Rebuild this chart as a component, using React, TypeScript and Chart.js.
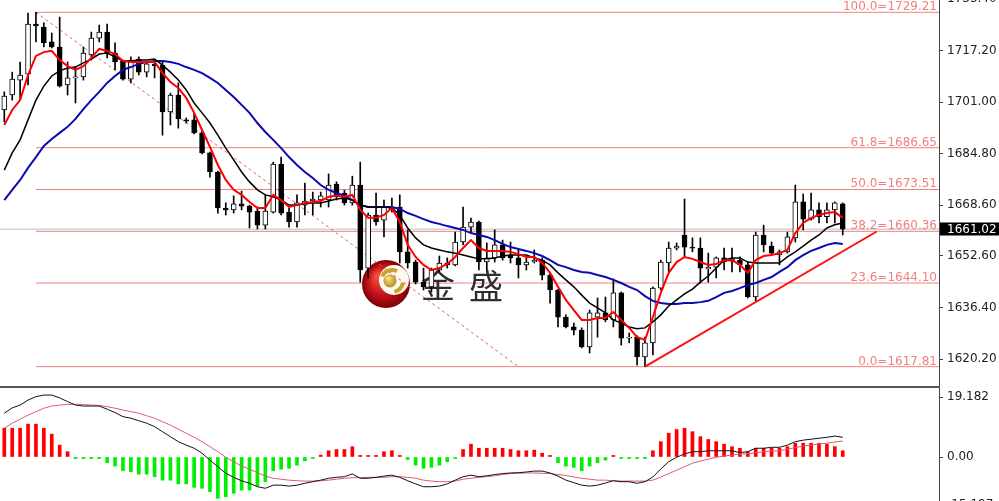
import React, { useEffect, useRef } from 'react';
import { Chart, registerables } from 'chart.js';

Chart.register(...registerables);
Chart.defaults.font.family = '"DejaVu Sans", Verdana, sans-serif';

// ---- XAUUSD candles (one per bar, oldest first) ----
const OPEN = [
  1698.5, 1703.2, 1707.9, 1709.8, 1725.5, 1724.6, 1719.9, 1718.3, 1706.4, 1708.6,
  1708.9, 1715.8, 1721.1, 1723.0, 1716.4, 1713.9, 1708.2, 1714.5, 1710.4, 1712.9,
  1712.6, 1697.9, 1703.2, 1695.4, 1695.4, 1691.3, 1685.0, 1679.0, 1667.7, 1667.1,
  1669.0, 1668.3, 1666.7, 1662.3, 1666.4, 1681.5, 1666.4, 1663.3, 1668.6, 1669.9,
  1670.2, 1670.2, 1675.2, 1672.4, 1669.3, 1674.9, 1648.8, 1665.5, 1663.9, 1668.0,
  1668.0, 1653.9, 1650.7, 1644.4, 1642.9, 1648.2, 1650.4, 1649.8, 1657.0, 1661.7,
  1663.3, 1650.7, 1652.0, 1656.1, 1652.9, 1652.0, 1649.8, 1650.7, 1651.3, 1646.6,
  1641.9, 1633.4, 1630.3, 1629.3, 1624.0, 1633.4, 1634.7, 1632.5, 1641.0, 1626.8,
  1627.1, 1620.9, 1625.3, 1642.5, 1650.4, 1655.1, 1659.2, 1655.4, 1655.1, 1648.5,
  1649.1, 1652.0, 1651.0, 1651.3, 1649.8, 1639.7, 1659.2, 1655.7, 1652.9, 1653.9,
  1658.3, 1669.6, 1664.2, 1667.1, 1665.0, 1667.1, 1669.0,
];
const HIGH = [
  1704.2, 1710.4, 1713.6, 1729.0, 1729.21, 1725.9, 1722.7, 1727.7, 1713.6, 1712.0,
  1718.3, 1723.0, 1725.2, 1725.5, 1719.6, 1714.2, 1715.2, 1715.2, 1713.6, 1713.9,
  1713.9, 1703.8, 1707.0, 1696.0, 1697.6, 1691.9, 1685.3, 1679.3, 1669.3, 1671.5,
  1673.0, 1668.6, 1668.0, 1671.8, 1682.1, 1683.7, 1667.7, 1671.8, 1675.5, 1672.7,
  1672.7, 1678.4, 1675.9, 1673.3, 1677.7, 1682.1, 1666.1, 1672.4, 1670.2, 1670.8,
  1671.8, 1660.8, 1651.3, 1648.8, 1648.8, 1652.6, 1652.0, 1660.1, 1668.0, 1664.5,
  1663.6, 1656.7, 1660.8, 1657.6, 1657.0, 1654.5, 1652.0, 1654.5, 1652.0, 1647.3,
  1642.1, 1634.1, 1631.5, 1630.0, 1635.6, 1639.4, 1639.7, 1645.4, 1641.3, 1628.4,
  1627.5, 1627.1, 1642.9, 1651.3, 1657.0, 1656.7, 1670.5, 1658.3, 1658.3, 1653.5,
  1652.3, 1655.1, 1655.1, 1652.3, 1650.7, 1660.1, 1662.3, 1657.0, 1654.5, 1660.1,
  1674.9, 1672.1, 1672.4, 1669.3, 1669.3, 1669.6, 1669.3,
];
const LOW = [
  1694.7, 1701.6, 1701.6, 1706.4, 1719.9, 1718.3, 1718.0, 1705.7, 1703.2, 1700.7,
  1707.9, 1714.2, 1719.9, 1714.9, 1711.1, 1707.9, 1707.0, 1709.5, 1708.9, 1708.6,
  1690.6, 1693.8, 1692.8, 1694.4, 1691.0, 1684.7, 1677.4, 1666.1, 1665.5, 1666.1,
  1667.1, 1661.4, 1661.1, 1661.1, 1666.1, 1665.5, 1661.7, 1661.7, 1665.5, 1665.5,
  1668.0, 1668.0, 1670.2, 1668.6, 1668.6, 1644.4, 1645.7, 1662.3, 1658.6, 1666.4,
  1650.4, 1648.8, 1643.8, 1641.9, 1641.3, 1647.6, 1648.8, 1649.5, 1656.1, 1660.1,
  1648.2, 1648.2, 1650.7, 1651.3, 1650.4, 1645.7, 1648.2, 1650.4, 1645.1, 1637.8,
  1630.3, 1630.0, 1627.8, 1623.7, 1622.1, 1627.1, 1631.9, 1630.3, 1624.6, 1625.3,
  1618.3, 1617.81, 1621.5, 1641.9, 1647.6, 1654.5, 1652.0, 1653.9, 1644.1, 1644.4,
  1645.7, 1648.2, 1647.6, 1647.6, 1639.4, 1638.5, 1653.9, 1652.9, 1649.8, 1653.5,
  1657.0, 1660.8, 1663.9, 1663.0, 1663.0, 1663.0, 1659.2,
];
const CLOSE = [
  1702.9, 1708.2, 1709.5, 1725.5, 1724.9, 1719.6, 1718.3, 1706.0, 1708.6, 1708.9,
  1716.4, 1721.1, 1723.0, 1716.4, 1713.6, 1708.2, 1714.2, 1710.4, 1713.0, 1712.4,
  1697.9, 1703.2, 1695.7, 1695.0, 1691.3, 1685.0, 1679.0, 1667.7, 1667.1, 1669.0,
  1668.3, 1666.4, 1662.3, 1666.7, 1681.5, 1666.1, 1663.3, 1669.3, 1669.9, 1670.5,
  1671.5, 1674.9, 1671.8, 1669.3, 1674.9, 1648.2, 1665.5, 1663.3, 1668.0, 1667.4,
  1653.9, 1650.4, 1644.4, 1642.9, 1648.2, 1650.4, 1649.8, 1657.0, 1661.7, 1663.3,
  1650.7, 1652.0, 1656.1, 1652.0, 1652.0, 1649.8, 1650.7, 1651.3, 1646.6, 1641.9,
  1633.4, 1630.3, 1629.3, 1624.0, 1634.7, 1634.7, 1632.5, 1641.0, 1626.8, 1627.1,
  1620.9, 1625.3, 1642.5, 1650.7, 1655.1, 1655.7, 1655.4, 1655.1, 1648.8, 1649.1,
  1652.0, 1650.7, 1651.6, 1649.8, 1639.7, 1659.2, 1656.1, 1653.5, 1653.9, 1658.6,
  1669.6, 1664.2, 1667.1, 1664.9, 1667.1, 1669.3, 1661.02,
];

// ---- moving averages ----
const MA_FAST = [
  1693.8, 1698.5, 1701.6, 1709.5, 1715.5, 1716.7, 1717.1, 1714.2, 1712.3, 1711.1,
  1712.3, 1714.9, 1717.7, 1717.1, 1716.1, 1713.9, 1713.6, 1713.6, 1713.6, 1713.6,
  1710.1, 1707.3, 1705.4, 1702.3, 1697.6, 1692.2, 1686.9, 1681.2, 1676.5, 1673.4,
  1671.8, 1669.6, 1667.7, 1667.7, 1671.8, 1670.2, 1668.0, 1668.6, 1669.3, 1669.6,
  1669.9, 1671.2, 1671.5, 1671.2, 1671.8, 1667.1, 1664.6, 1664.6, 1665.5, 1667.7,
  1663.3, 1656.1, 1652.3, 1649.8, 1648.2, 1648.8, 1650.1, 1652.3, 1655.1, 1657.6,
  1655.1, 1654.2, 1654.2, 1654.2, 1653.9, 1653.2, 1652.3, 1652.3, 1650.4, 1647.3,
  1642.9, 1638.8, 1635.6, 1632.5, 1632.5, 1633.1, 1633.1, 1635.0, 1632.5, 1630.0,
  1627.1, 1626.2, 1633.4, 1641.0, 1647.3, 1650.7, 1652.3, 1651.7, 1650.7, 1649.8,
  1650.1, 1651.3, 1651.3, 1649.8, 1647.3, 1651.3, 1652.6, 1652.9, 1653.5, 1654.5,
  1659.8, 1663.0, 1664.6, 1665.5, 1666.1, 1666.4, 1664.6,
];
const MA_MID = [
  1679.6, 1685.0, 1689.1, 1695.4, 1701.6, 1706.0, 1709.2, 1710.8, 1711.7, 1712.0,
  1713.3, 1714.5, 1716.1, 1716.4, 1715.2, 1713.9, 1713.9, 1714.2, 1714.2, 1714.5,
  1712.6, 1710.4, 1707.9, 1704.8, 1700.7, 1697.6, 1694.4, 1690.6, 1686.5, 1682.8,
  1679.0, 1675.9, 1673.4, 1671.8, 1671.2, 1670.2, 1668.6, 1668.6, 1669.0, 1669.3,
  1669.3, 1669.9, 1670.5, 1670.8, 1670.2, 1668.6, 1668.0, 1668.0, 1668.0, 1667.7,
  1665.5, 1661.4, 1658.3, 1656.1, 1655.1, 1654.5, 1653.9, 1653.5, 1652.9, 1652.3,
  1651.7, 1651.7, 1652.0, 1652.6, 1652.9, 1652.9, 1652.9, 1652.0, 1651.3, 1649.8,
  1647.3, 1645.1, 1642.9, 1640.3, 1637.8, 1636.3, 1634.7, 1632.5, 1631.5, 1630.3,
  1629.7, 1630.0, 1631.9, 1634.1, 1636.9, 1638.8, 1640.7, 1642.2, 1644.4, 1646.3,
  1648.8, 1651.3, 1652.0, 1652.0, 1650.7, 1650.4, 1650.4, 1650.4, 1650.4, 1652.3,
  1653.9, 1655.7, 1657.6, 1659.2, 1661.4, 1662.4, 1663.0,
];
const MA_SLOW = [
  1670.2, 1673.4, 1676.5, 1680.3, 1683.7, 1687.2, 1689.4, 1691.3, 1693.2, 1695.7,
  1698.8, 1701.6, 1704.2, 1707.0, 1709.2, 1711.1, 1712.0, 1713.0, 1713.6, 1713.9,
  1713.9, 1713.6, 1713.0, 1712.0, 1711.1, 1710.1, 1708.6, 1707.0, 1704.8, 1702.6,
  1700.1, 1697.6, 1694.4, 1691.6, 1689.1, 1686.5, 1683.7, 1681.2, 1679.0, 1677.1,
  1674.9, 1673.4, 1672.4, 1671.5, 1670.2, 1668.6, 1668.0, 1668.0, 1668.0, 1668.0,
  1667.4, 1666.1, 1665.2, 1664.2, 1663.3, 1662.7, 1662.0, 1661.4, 1660.8, 1659.8,
  1659.2, 1658.6, 1657.6, 1656.4, 1655.4, 1654.8, 1654.2, 1653.5, 1652.6, 1651.3,
  1649.8, 1649.1, 1648.2, 1647.6, 1647.3, 1646.6, 1646.0, 1645.1, 1644.1, 1642.9,
  1641.9, 1640.0, 1638.5, 1637.8, 1637.5, 1637.5, 1637.8, 1637.8, 1638.1, 1638.5,
  1639.7, 1641.0, 1641.6, 1642.5, 1643.5, 1644.1, 1645.1, 1646.0, 1647.6, 1649.1,
  1651.3, 1652.9, 1654.2, 1655.1, 1656.1, 1656.7, 1656.4,
];

// ---- MACD panel ----
const MACD_HIST = [
  9.2, 9.2, 9.2, 10.5, 10.5, 9.2, 7.3, 3.8, 1.7, -0.5,
  -0.5, -0.5, -0.5, -1.8, -2.9, -4.4, -4.7, -5.5, -5.5, -6.3,
  -7.4, -7.4, -8.6, -8.6, -9.7, -10.0, -11.1, -13.2, -12.7, -11.6,
  -10.6, -10.6, -9.3, -7.9, -4.4, -3.9, -3.6, -2.6, -1.2, -0.5,
  0.6, 2.0, 2.4, 2.4, 3.3, 0.5, 0.5, 0.5, 1.7, 2.0,
  0.5, -0.8, -2.6, -3.6, -3.3, -2.6, -1.5, -0.5, 2.4, 4.1,
  2.8, 2.8, 2.8, 2.8, 2.4, 2.0, 2.0, 2.2, 1.2, 0.5,
  -1.8, -2.9, -3.3, -4.4, -2.9, -1.8, -1.0, 0.5, -0.5, -0.5,
  -0.5, -0.5, 2.0, 4.9, 7.6, 8.8, 9.2, 8.1, 6.5, 5.6,
  4.9, 4.1, 3.3, 2.8, 1.7, 2.8, 2.8, 2.8, 2.8, 3.3,
  4.4, 4.4, 4.4, 4.4, 4.1, 3.3, 2.0,
];
const MACD_MAIN = [
  14.0, 15.7, 16.6, 18.2, 19.3, 19.8, 19.8, 18.9, 17.7, 16.6,
  16.3, 16.3, 16.3, 15.3, 14.2, 12.9, 12.4, 11.6, 10.8, 9.7,
  8.1, 6.5, 4.9, 3.8, 2.8, 1.2, -1.0, -3.1, -5.2, -6.5,
  -7.6, -8.4, -9.5, -10.0, -9.0, -9.0, -9.3, -9.0, -8.4, -7.9,
  -7.4, -6.8, -6.5, -6.3, -5.4, -6.8, -6.8, -6.5, -6.1, -5.8,
  -6.5, -7.6, -8.6, -9.5, -9.5, -9.3, -8.6, -7.4, -6.3, -5.8,
  -6.3, -6.0, -5.6, -5.3, -5.1, -5.0, -4.8, -4.5, -4.5, -5.1,
  -6.1, -7.4, -8.2, -9.0, -9.3, -9.0, -8.3, -7.6, -7.9, -7.9,
  -8.4, -7.9, -6.4, -3.8, -1.5, -0.1, 1.0, 1.7, 1.7, 2.0,
  2.0, 2.0, 2.0, 1.4, 1.7, 2.8, 2.8, 3.1, 3.1, 3.8,
  4.9, 5.4, 5.7, 6.0, 6.3, 6.7, 6.3,
];
const MACD_SIGNAL = [
  9.2, 10.8, 12.1, 13.4, 14.5, 15.6, 16.3, 16.6, 16.8, 16.9,
  16.8, 16.6, 16.5, 16.1, 15.6, 15.0, 14.5, 14.0, 13.2, 12.4,
  11.3, 10.2, 8.9, 7.6, 6.3, 4.9, 3.3, 1.7, -0.1, -1.5,
  -2.9, -3.9, -5.0, -6.1, -6.8, -7.1, -7.4, -7.6, -7.7, -7.7,
  -7.6, -7.4, -7.1, -6.8, -6.6, -6.6, -6.5, -6.5, -6.5, -6.3,
  -6.3, -6.5, -6.8, -7.4, -7.7, -7.9, -7.9, -7.7, -7.1, -6.8,
  -6.5, -6.3, -6.0, -5.6, -5.3, -5.2, -5.1, -5.1, -5.2, -5.3,
  -5.6, -5.9, -6.4, -6.8, -7.1, -7.4, -7.4, -7.6, -7.7, -7.7,
  -7.7, -7.7, -7.4, -6.4, -5.3, -4.2, -3.1, -2.0, -1.3, -0.7,
  -0.1, 0.3, 0.6, 1.0, 1.0, 1.4, 1.7, 1.9, 2.0, 2.5,
  3.0, 3.5, 3.8, 4.2, 4.4, 4.8, 5.1,
];

// ---- Fibonacci retracement, drawn objects, axis ticks ----
const FIB_LEVELS = [100.0, 61.8, 50.0, 38.2, 23.6, 0.0];
const FIB_PRICES = [1729.21, 1686.65, 1673.51, 1660.36, 1644.1, 1617.81];
const FIB_ANCHOR_BAR = 4;
const FIB_DIAGONAL = [
  { x: 4, y: 1729.21 },
  { x: 65, y: 1617.81 },
];
const TREND_LINE = [
  { x: 81, y: 1617.81 },
  { x: 110.3, y: 1660.3 },
];
const LAST_PRICE = 1661.02;
const PRICE_TICKS = [1620.2, 1636.4, 1652.6, 1668.6, 1684.8, 1701.0, 1717.2, 1733.4];
const MACD_TICKS = [-15.197, 0, 19.182];

// visible window of the chart
const X_MIN = -0.544;
const X_MAX = 118.17;
const P_MIN = 1611.73;
const P_MAX = 1733.08;
const M_MIN = -17.9;
const M_MAX = 22.06;

const AXIS_W = 60;
const FIB_COLOR = '#f08080';
const LABEL_FONT = '12px "DejaVu Sans", Verdana, sans-serif';

const rightAxis = (ticks: number[], fmt: (v: number) => string) => ({
  position: 'right' as const,
  afterBuildTicks: (s: any) => {
    s.ticks = ticks.map((v) => ({ value: v }));
  },
  afterFit: (s: any) => {
    s.width = AXIS_W;
    s.paddingTop = 0;
    s.paddingBottom = 0;
  },
  ticks: {
    autoSkip: false,
    padding: 4,
    color: '#222',
    font: { size: 12 },
    callback: (v: any) => fmt(Number(v)),
  },
  grid: { display: true, drawOnChartArea: false, drawTicks: true, tickLength: 4, color: '#444' },
  border: { display: true, color: '#444', width: 1 },
});

function drawLogo(ctx: CanvasRenderingContext2D) {
  const cx = 386;
  const cy = 284;
  ctx.save();
  const red = ctx.createRadialGradient(cx - 8, cy - 8, 2, cx, cy, 24);
  red.addColorStop(0, '#f2503e');
  red.addColorStop(0.55, '#c8141c');
  red.addColorStop(1, '#7c0008');
  ctx.fillStyle = red;
  ctx.beginPath();
  ctx.arc(cx, cy, 24, 0, Math.PI * 2);
  ctx.fill();
  ctx.fillStyle = '#fffaf0';
  ctx.beginPath();
  ctx.arc(cx + 8, cy - 4, 15, 0, Math.PI * 2);
  ctx.fill();
  ctx.strokeStyle = '#c9a62a';
  ctx.lineWidth = 4;
  ctx.beginPath();
  ctx.arc(cx + 6, cy - 3, 11, -2.7, -1.1);
  ctx.stroke();
  ctx.beginPath();
  ctx.arc(cx + 6, cy - 3, 11, 0.15, 1.35);
  ctx.stroke();
  const gold = ctx.createRadialGradient(cx + 2, cy - 6, 1, cx + 4, cy - 3, 7);
  gold.addColorStop(0, '#f4e07c');
  gold.addColorStop(1, '#b08c1a');
  ctx.fillStyle = gold;
  ctx.beginPath();
  ctx.arc(cx + 4, cy - 3, 6.5, 0, Math.PI * 2);
  ctx.fill();
  ctx.fillStyle = '#2e2e2e';
  ctx.font = '34px "Noto Sans CJK SC", sans-serif';
  ctx.textAlign = 'center';
  ctx.textBaseline = 'middle';
  ctx.fillText('金', 438, 285);
  ctx.fillText('盛', 486, 286);
  ctx.restore();
}

const mainPlugin = {
  id: 'mainOverlay',
  beforeDatasetDraw(chart: any, args: any) {
    if (chart.data.datasets[args.index].label === 'fib-diagonal') drawLogo(chart.ctx);
  },
  afterDatasetsDraw(chart: any) {
    const { ctx, chartArea, scales } = chart;
    ctx.save();
    ctx.font = LABEL_FONT;
    ctx.fillStyle = FIB_COLOR;
    ctx.textAlign = 'right';
    ctx.textBaseline = 'alphabetic';
    FIB_LEVELS.forEach((lvl, i) => {
      const y = scales.y.getPixelForValue(FIB_PRICES[i]);
      ctx.fillText(`${lvl.toFixed(1)}=${FIB_PRICES[i].toFixed(2)}`, chartArea.right - 2, y - 2);
    });
    ctx.restore();
  },
  afterDraw(chart: any) {
    const { ctx, chartArea, scales } = chart;
    const y = scales.y.getPixelForValue(LAST_PRICE);
    ctx.save();
    ctx.fillStyle = '#000';
    ctx.fillRect(chartArea.right + 1, Math.round(y) - 6.5, AXIS_W, 13);
    ctx.fillStyle = '#fff';
    ctx.font = LABEL_FONT;
    ctx.textAlign = 'left';
    ctx.textBaseline = 'middle';
    ctx.fillText(LAST_PRICE.toFixed(2), chartArea.right + 8, Math.round(y) + 0.5);
    ctx.restore();
  },
};

const line = (label: string, data: any[], color: string, width: number, order: number, extra: any = {}) => ({
  type: 'line' as const,
  label,
  data,
  borderColor: color,
  borderWidth: width,
  pointRadius: 0,
  tension: 0,
  fill: false,
  order,
  ...extra,
});

export default function App() {
  const mainRef = useRef<HTMLCanvasElement>(null);
  const macdRef = useRef<HTMLCanvasElement>(null);

  useEffect(() => {
    const idx = (arr: number[]) => arr.map((v, i) => ({ x: i, y: v }));
    const fibSets = FIB_PRICES.map((p, i) =>
      line(`fib-${FIB_LEVELS[i]}`, [{ x: FIB_ANCHOR_BAR, y: p }, { x: X_MAX, y: p }], FIB_COLOR, 1, 10)
    );

    const main = new Chart(mainRef.current as HTMLCanvasElement, {
      type: 'bar',
      data: {
        datasets: [
          ...fibSets,
          line('bid', [{ x: X_MIN, y: LAST_PRICE }, { x: X_MAX, y: LAST_PRICE }], '#bdbdbd', 1, 10),
          line('fib-diagonal', FIB_DIAGONAL, '#e06060', 1, 8, { borderDash: [3, 3] }),
          {
            type: 'bar',
            label: 'wicks',
            data: LOW.map((l, i) => ({ x: i, y: [l, HIGH[i]] })),
            backgroundColor: '#000',
            borderWidth: 0,
            barThickness: 1,
            grouped: false,
            order: 6,
          },
          {
            type: 'bar',
            label: 'bodies',
            data: OPEN.map((o, i) => ({ x: i, y: [o, CLOSE[i]] })),
            backgroundColor: OPEN.map((o, i) => (CLOSE[i] >= o ? '#ffffff' : '#000000')),
            borderColor: '#000',
            borderWidth: 1,
            borderSkipped: false,
            barThickness: 5,
            minBarLength: 1,
            grouped: false,
            order: 5,
          },
          line('ma-slow', idx(MA_SLOW), '#0a0ab4', 2, 4),
          line('ma-mid', idx(MA_MID), '#000000', 1.5, 3),
          line('ma-fast', idx(MA_FAST), '#ff0000', 2, 2),
          line('trend', TREND_LINE, '#ff1010', 2, 1),
        ] as any,
      },
      options: {
        animation: false,
        responsive: false,
        maintainAspectRatio: false,
        layout: { padding: 0, autoPadding: false },
        plugins: { legend: { display: false }, tooltip: { enabled: false } },
        scales: {
          x: { type: 'linear', min: X_MIN, max: X_MAX, display: false, offset: false },
          y: { min: P_MIN, max: P_MAX, ...rightAxis(PRICE_TICKS, (v) => v.toFixed(2)) },
        } as any,
      },
      plugins: [mainPlugin],
    });

    const macd = new Chart(macdRef.current as HTMLCanvasElement, {
      type: 'bar',
      data: {
        datasets: [
          line('signal', idx(MACD_SIGNAL), '#dc5a78', 1, 1),
          line('macd', idx(MACD_MAIN), '#111111', 1, 0),
          {
            type: 'bar',
            label: 'histogram',
            data: idx(MACD_HIST),
            backgroundColor: MACD_HIST.map((v) => (v >= 0 ? '#ff0000' : '#00ee00')),
            borderWidth: 0,
            barThickness: 3,
            grouped: false,
            order: 5,
          },
        ] as any,
      },
      options: {
        animation: false,
        responsive: false,
        maintainAspectRatio: false,
        layout: { padding: 0, autoPadding: false },
        plugins: { legend: { display: false }, tooltip: { enabled: false } },
        scales: {
          x: { type: 'linear', min: X_MIN, max: X_MAX, display: false, offset: false },
          y: {
            min: M_MIN,
            max: M_MAX,
            ...rightAxis(MACD_TICKS, (v) => (v === 0 ? '0.00' : v.toFixed(3))),
          },
        } as any,
      },
    });

    return () => {
      main.destroy();
      macd.destroy();
    };
  }, []);

  return (
    <div
      style={{
        position: 'fixed',
        left: 0,
        top: 0,
        width: 999,
        height: 501,
        overflow: 'hidden',
        background: '#ffffff',
      }}
    >
      <canvas ref={mainRef} width={999} height={386} style={{ position: 'absolute', left: 0, top: 0 }} />
      <div style={{ position: 'absolute', left: 0, top: 386, width: 940, height: 2, background: '#555' }} />
      <canvas ref={macdRef} width={999} height={125} style={{ position: 'absolute', left: 0, top: 388 }} />
    </div>
  );
}
